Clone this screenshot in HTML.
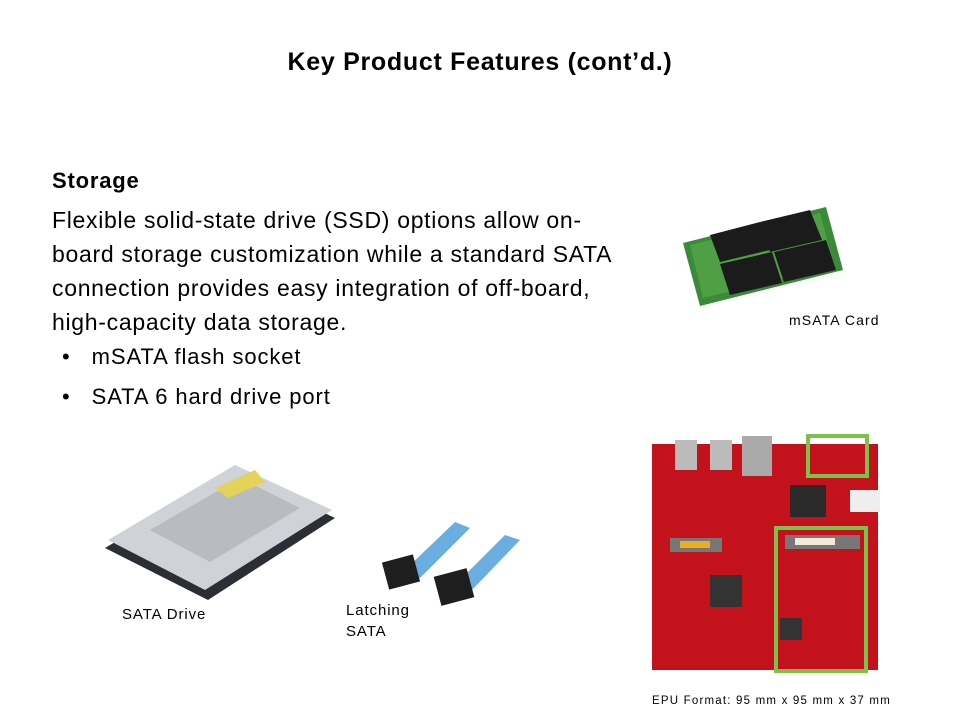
<!DOCTYPE html>
<html><head><meta charset="utf-8"><style>
body{margin:0;width:960px;height:720px;background:#fff;position:relative;overflow:hidden;font-family:"Liberation Sans",sans-serif}
.t{position:absolute;white-space:nowrap;color:#000}
</style></head><body>
<div class="t" style="left:0;width:960px;text-align:center;top:48px;font-size:25px;font-weight:bold;letter-spacing:0.7px">Key Product Features (cont’d.)</div>
<div class="t" style="left:52px;top:168px;font-size:22px;font-weight:bold;letter-spacing:0.8px">Storage</div>
<div class="t" style="left:52px;top:203px;font-size:23px;line-height:34px;letter-spacing:0.7px">Flexible solid-state drive (SSD) options allow on-<br>board storage customization while a standard SATA<br>connection provides easy integration of off-board,<br>high-capacity data storage.</div>
<div class="t" style="left:62px;top:337px;font-size:22px;line-height:40px;letter-spacing:0.9px">•&nbsp;&nbsp;&nbsp;mSATA flash socket<br>•&nbsp;&nbsp;&nbsp;SATA 6 hard drive port</div>
<div class="t" style="left:789px;top:312px;font-size:14px;letter-spacing:1.1px">mSATA Card</div>
<div class="t" style="left:122px;top:606px;font-size:15px;letter-spacing:0.9px">SATA Drive</div>
<div class="t" style="left:346px;top:600px;font-size:15px;line-height:21px;letter-spacing:0.9px">Latching<br>SATA</div>
<div class="t" style="left:652px;top:695px;font-size:11.5px;letter-spacing:1.2px">EPU Format: 95 mm x 95 mm x 37 mm</div>
<svg width="960" height="720" style="position:absolute;left:0;top:0">
<polygon points="683,243 826,207 843,270 700,306" fill="#3a8a3a"/>
<polygon points="690,245 820,213 834,266 703,298" fill="#4f9f45"/>
<polygon points="710,235 760,222 770,250 720,262" fill="#1b1b1b"/>
<polygon points="760,222 810,210 822,240 770,252" fill="#1b1b1b"/>
<polygon points="720,264 772,252 782,283 730,295" fill="#1b1b1b"/>
<polygon points="774,252 826,240 836,270 784,282" fill="#1b1b1b"/>
<polygon points="105,548 235,470 335,518 208,600" fill="#2b2f35"/>
<polygon points="108,540 235,465 332,510 205,590" fill="#cfd2d6"/>
<polygon points="150,530 240,478 300,508 210,562" fill="#b8bcc0"/>
<polygon points="215,488 255,470 265,482 228,498" fill="#e4d35a"/>
<polygon points="405,570 455,522 470,528 420,578" fill="#6aaee0"/>
<polygon points="455,585 505,535 520,540 470,592" fill="#6aaee0"/>
<rect x="385" y="558" width="32" height="28" fill="#1e1e1e" transform="rotate(-15 401 572)"/>
<rect x="437" y="572" width="34" height="30" fill="#1e1e1e" transform="rotate(-15 454 587)"/>
<rect x="652" y="444" width="226" height="226" fill="#c4121c"/>
<rect x="675" y="440" width="22" height="30" fill="#bbb"/>
<rect x="710" y="440" width="22" height="30" fill="#bbb"/>
<rect x="742" y="436" width="30" height="40" fill="#aaa"/>
<rect x="670" y="538" width="52" height="14" fill="#777"/>
<rect x="680" y="541" width="30" height="7" fill="#e8b020"/>
<rect x="710" y="575" width="32" height="32" fill="#333"/>
<rect x="785" y="535" width="75" height="14" fill="#777"/>
<rect x="795" y="538" width="40" height="7" fill="#f4eadb"/>
<rect x="780" y="618" width="22" height="22" fill="#333"/>
<rect x="790" y="485" width="36" height="32" fill="#2a2a2a"/>
<rect x="850" y="490" width="30" height="22" fill="#eee"/>
<rect x="808" y="436" width="59" height="40" fill="none" stroke="#7ac24a" stroke-width="4"/>
<rect x="776" y="528" width="90" height="143" fill="none" stroke="#7ac24a" stroke-width="4"/>
</svg>
</body></html>
